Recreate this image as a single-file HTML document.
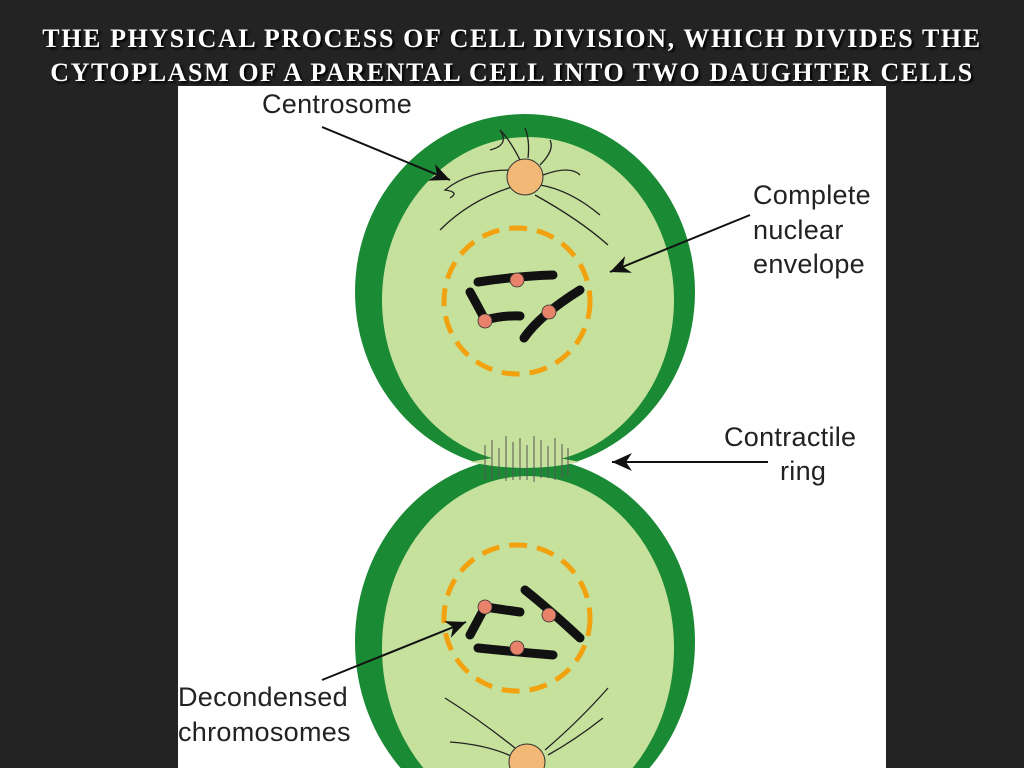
<!DOCTYPE html>
<html style="overflow:hidden"><head><style>
html,body{margin:0;width:1024px;height:768px;overflow:hidden;background:#232323;}
.t{position:absolute;left:0;width:1024px;text-align:center;color:#fff;font-family:"Liberation Serif",serif;font-weight:bold;font-size:26px;letter-spacing:1.6px;text-shadow:2px 2px 2px #000;white-space:nowrap;}
</style></head><body>
<svg width="1024" height="768" viewBox="0 0 1024 768" style="position:absolute;left:0;top:0;display:block;overflow:hidden">
<rect x="178" y="86" width="708" height="682" fill="#fff"/>
<defs>
<clipPath id="c"><rect x="0" y="0" width="1024" height="768"/></clipPath>
<marker id="b" markerWidth="22" markerHeight="18" refX="20" refY="9" orient="auto" markerUnits="userSpaceOnUse"><path d="M0,0 L20,9 L0,18 L6,9z" fill="#111"/></marker></defs>
<g clip-path="url(#c)">
<ellipse cx="525" cy="292" rx="170" ry="178" fill="#1a8a35"/>
<ellipse cx="525" cy="642" rx="170" ry="185" fill="#1a8a35"/>
<ellipse cx="528" cy="300" rx="146" ry="163" fill="#c6e19c"/>
<ellipse cx="528" cy="648" rx="146" ry="172" fill="#c6e19c"/>
<path d="M470,462 Q525,450 580,462 Q525,474 470,462z" fill="#c6e19c"/>
<g stroke="#555" stroke-width="1" fill="none">
<path d="M485,445 v35 M492,440 v40 M499,448 v30 M506,436 v45 M513,442 v38 M520,438 v42 M527,445 v35 M534,436 v46 M541,440 v38 M548,446 v32 M555,438 v42 M562,444 v34 M568,448 v28"/>
</g>
<g stroke="#222" stroke-width="1.3" fill="none">
<path d="M510,170 Q470,170 445,190 Q460,192 450,198"/>
<path d="M512,187 Q470,200 440,230"/>
<path d="M520,160 Q510,140 500,130 Q510,145 490,150"/>
<path d="M528,158 Q530,140 525,128"/>
<path d="M540,165 Q555,150 550,140"/>
<path d="M543,175 Q570,165 580,175"/>
<path d="M540,185 Q570,190 600,215"/>
<path d="M535,195 Q580,220 608,245"/>
</g>
<circle cx="525" cy="177" r="18" fill="#f2b876" stroke="#333" stroke-width="1"/>
<circle cx="517" cy="301" r="73" fill="none" stroke="#f2a20f" stroke-width="5" stroke-dasharray="18 10"/>
<g stroke="#111" stroke-width="9" stroke-linecap="round" fill="none">
<path d="M478,282 Q517,276 553,275"/>
<path d="M470,292 Q480,310 485,320 Q505,315 520,316"/>
<path d="M524,338 Q540,315 580,290"/>
</g>
<g fill="#e8826a" stroke="#333" stroke-width="0.8"><circle cx="517" cy="280" r="7"/><circle cx="485" cy="321" r="7"/><circle cx="549" cy="312" r="7"/></g>
<circle cx="517" cy="618" r="73" fill="none" stroke="#f2a20f" stroke-width="5" stroke-dasharray="18 10"/>
<g stroke="#111" stroke-width="9" stroke-linecap="round" fill="none">
<path d="M470,635 Q478,620 485,607 Q505,610 520,612"/>
<path d="M478,648 Q517,652 553,655"/>
<path d="M525,590 Q550,610 580,638"/>
</g>
<g fill="#e8826a" stroke="#333" stroke-width="0.8"><circle cx="485" cy="607" r="7"/><circle cx="517" cy="648" r="7"/><circle cx="549" cy="615" r="7"/></g>
<g stroke="#222" stroke-width="1.3" fill="none">
<path d="M445,698 Q480,720 515,748"/>
<path d="M450,742 Q490,745 515,758"/>
<path d="M608,688 Q580,720 545,750"/>
<path d="M603,718 Q575,740 548,755"/>
</g>
<circle cx="527" cy="762" r="18" fill="#f2b876" stroke="#333" stroke-width="1"/>
</g>
<line x1="322" y1="127" x2="450" y2="180" stroke="#111" stroke-width="2" marker-end="url(#b)"/>
<line x1="750" y1="215" x2="610" y2="272" stroke="#111" stroke-width="2" marker-end="url(#b)"/>
<line x1="768" y1="462" x2="612" y2="462" stroke="#111" stroke-width="2" marker-end="url(#b)"/>
<line x1="322" y1="680" x2="466" y2="622" stroke="#111" stroke-width="2" marker-end="url(#b)"/>
<g font-family="Liberation Sans,sans-serif" font-size="27" fill="#222" letter-spacing="0.3">
<text x="262" y="113">Centrosome</text>
<text x="753" y="204">Complete</text>
<text x="753" y="239">nuclear</text>
<text x="753" y="273">envelope</text>
<text x="724" y="446">Contractile</text>
<text x="780" y="480">ring</text>
<text x="178" y="706">Decondensed</text>
<text x="178" y="741">chromosomes</text>
</g>
</svg>
<div class="t" style="top:24px">THE PHYSICAL PROCESS OF CELL DIVISION, WHICH DIVIDES THE</div>
<div class="t" style="top:58px">CYTOPLASM OF A PARENTAL CELL INTO TWO DAUGHTER CELLS</div>
</body></html>
